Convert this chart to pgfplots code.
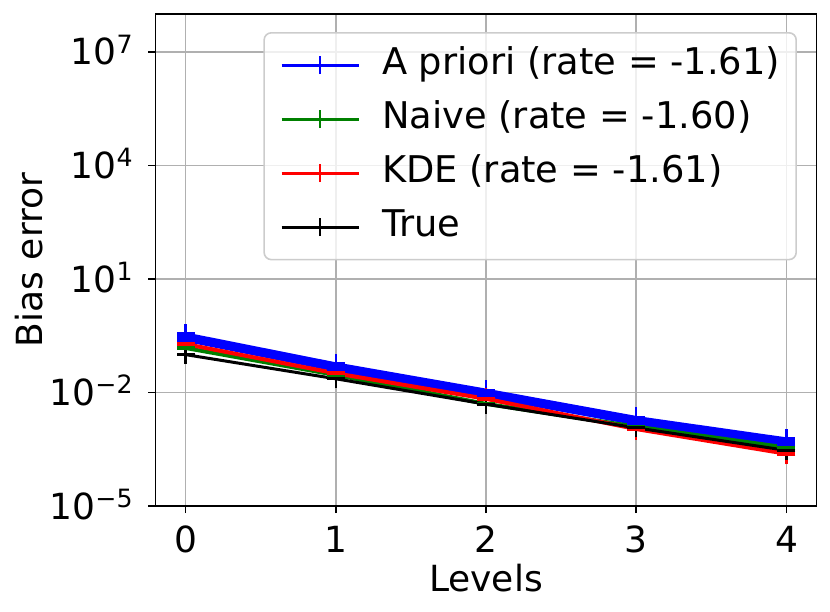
\documentclass[border=0pt]{standalone}
\usepackage{fontspec}
\setmainfont{DejaVu Sans}
\usepackage{pgfplots}
\pgfplotsset{compat=1.18}
\newcommand{\fs}{\fontsize{18}{21.6}\selectfont}
\newcommand{\lfs}{\fontsize{18.4}{22}\selectfont}
\newcommand{\tl}[1]{10\raisebox{5.9pt}{\fontsize{12.6}{14}\selectfont #1}}
\pgfplotsset{
  mylegend/.style={legend image code/.code={
      \draw[line width=1.5pt] (0pt,0pt) -- (38.5pt,0pt);
      \draw[line width=1pt] (19.25pt,-4.5pt) -- (19.25pt,4.5pt);}},
  band/.style={mark=-, mark size=4.5pt, mark options={solid}, forget plot},
  ebar/.style={line width=1.2pt, forget plot},
}
\begin{document}
\begin{tikzpicture}
\begin{axis}[
  scale only axis, width=330.5pt, height=246pt,
  xmin=-0.2, xmax=4.2, ymode=log, ymin=1e-5, ymax=1e8,
  unbounded coords=jump,
  xtick={0,1,2,3,4}, xticklabels={0,1,2,3,4},
  ytick={1e-5,1e-2,1e1,1e4,1e7},
  yticklabels={\tl{−5},\tl{−2},\tl{1},\tl{4},\tl{7}},
  yminorticks=false, xminorticks=false,
  grid=major,
  major grid style={color=black!31, line width=0.8pt},
  axis line style={line width=0.8pt},
  tick style={black, line width=0.8pt},
  tick align=outside, major tick length=3.5pt,
  xtick pos=left, ytick pos=left,
  ticklabel style={font=\fs, inner sep=0pt},
  xticklabel style={anchor=base, yshift=-19.5pt},
  yticklabel style={anchor=base east, xshift=-7.75pt, yshift=-6.56pt},
  xlabel={Levels},
  every axis x label/.style={at={(rel axis cs:0.5,-0.1728)}, anchor=base, inner sep=0pt, font=\fs},
  ylabel={Bias error},
  every axis y label/.style={at={(rel axis cs:-0.1702,0.5)}, rotate=90, anchor=base, inner sep=0pt, font=\fs},
  legend cell align=left,
  legend style={at={(rel axis cs:1,1)}, anchor=north east, xshift=-9.75pt, yshift=-9pt,
    inner xsep=8pt, inner ysep=7.2pt, row sep=9pt, column sep=11pt,
    rounded corners=3.6pt, draw=black!20, line width=0.8pt, fill=white, fill opacity=0.8, text opacity=1,
    font=\lfs, nodes={inner sep=0pt, text height=13.5pt, text depth=4.5pt}},
]
% A priori (blue)
\addplot[blue, line width=4.65pt, band] coordinates {(0,0.29) (1,0.047) (2,0.0095) (3,0.0018) (4,4.9e-4)};
\addplot[blue, ebar] coordinates {(0,0.129) (0,0.65) (0,nan) (1,0.021) (1,0.105) (1,nan) (2,0.00424) (2,0.0213) (2,nan) (3,0.0008) (3,0.00403) (3,nan) (4,2.19e-4) (4,1.1e-3)};
% Naive (green)
\addplot[green!50!black, line width=2pt, band] coordinates {(0,0.15) (1,0.029) (2,0.0050) (3,0.00125) (4,3.5e-4)};
\addplot[green!50!black, ebar] coordinates {(0,0.084) (0,0.267) (0,nan) (1,0.0163) (1,0.0516) (1,nan) (2,0.0028) (2,0.0089) (2,nan) (3,7.0e-4) (3,2.22e-3) (3,nan) (4,1.97e-4) (4,6.2e-4)};
% KDE (red)
\addplot[red, line width=2pt, band] coordinates {(0,0.19) (1,0.032) (2,0.0068) (3,0.00108) (4,2.4e-4)};
\addplot[red, ebar] coordinates {(0,0.1) (0,0.361) (0,nan) (1,0.0168) (1,0.0608) (1,nan) (2,0.00358) (2,0.0129) (2,nan) (3,5.7e-4) (3,2.05e-3) (3,nan) (4,1.26e-4) (4,4.56e-4)};
% True (black)
\addplot[black, line width=1.5pt, band] coordinates {(0,0.10) (1,0.023) (2,0.0049) (3,0.00116) (4,2.95e-4)};
\addplot[black, ebar] coordinates {(0,0.056) (0,0.178) (0,nan) (1,0.0129) (1,0.041) (1,nan) (2,0.00275) (2,0.0087) (2,nan) (3,6.5e-4) (3,2.06e-3) (3,nan) (4,1.66e-4) (4,5.25e-4)};
\addlegendimage{blue, mylegend}
\addlegendentry{A priori (rate = -1.61)}
\addlegendimage{green!50!black, mylegend}
\addlegendentry{Naive (rate = -1.60)}
\addlegendimage{red, mylegend}
\addlegendentry{KDE (rate = -1.61)}
\addlegendimage{black, mylegend}
\addlegendentry{True}
\coordinate (ll) at (rel axis cs:0,0);
\coordinate (ur) at (rel axis cs:1,1);
\end{axis}
\pgfresetboundingbox
\path ([xshift=-77.75pt,yshift=-52.5pt]ll) rectangle ([xshift=6.75pt,yshift=7pt]ur);
\end{tikzpicture}
\end{document}
